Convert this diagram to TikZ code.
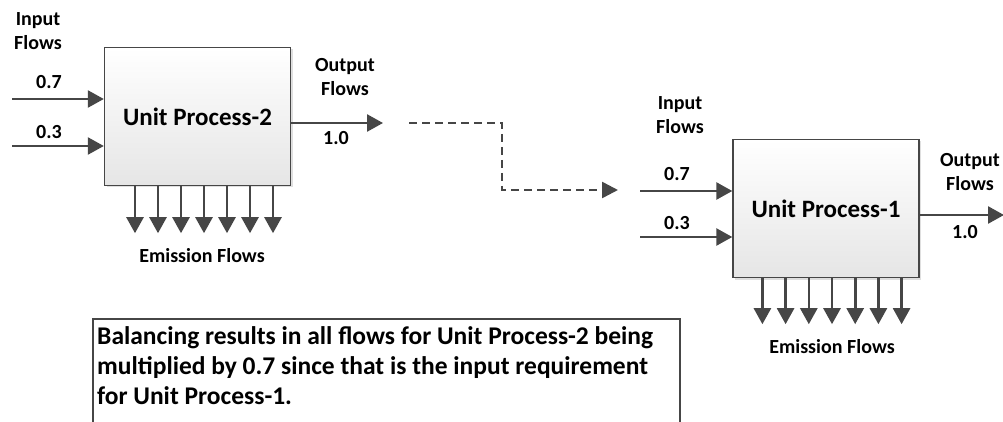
\documentclass[tikz,border=0pt]{standalone}
\usepackage{fontspec}
\setmainfont{Carlito}
\usetikzlibrary{arrows.meta,shadows}
\definecolor{flowgray}{RGB}{70,70,70}

\tikzset{
  flow/.style={draw=flowgray, line width=2.6pt, -{Triangle[length=16pt,width=17pt]}},
  dashflow/.style={draw=flowgray, line width=2.6pt, dash pattern=on 8pt off 5pt,
    -{Triangle[length=16pt,width=16pt]}},
  unitbox/.style={draw=flowgray, line width=1.4pt, top color=white, bottom color=gray!20,
    minimum width=186pt, minimum height=138pt, inner sep=0pt,
    font=\bfseries\fontsize{25}{30}\selectfont,
    drop shadow={shadow xshift=2pt, shadow yshift=-2pt, opacity=0.25}},
  lbl/.style={font=\bfseries\fontsize{20}{24.5}\selectfont, align=center, inner sep=0pt},
}

\begin{document}
\begin{tikzpicture}[x=1pt,y=-1pt]

\useasboundingbox (0,0) rectangle (1003,422);
\clip (0,0) rectangle (1003,422);

% unit processes
\node [unitbox] (up2) at (197.5,116.5) {Unit Process-2};
\node [unitbox] (up1) at (826,208.5) {Unit Process-1};

% free ends
\coordinate (in2a) at (12,99);
\coordinate (in2b) at (12,146);
\coordinate (out2) at (383,123);
\coordinate (in1a) at (640,191);
\coordinate (in1b) at (640,237);
\coordinate (out1) at (1004,215);
\coordinate (dstart) at (409,123);
\coordinate (dend) at (618,190);

% flows of Unit Process-2
\draw [flow] (in2a) -- ([yshift=17.5pt]up2.west);
\draw [flow] (in2b) -- ([yshift=-29.5pt]up2.west);
\draw [flow] ([yshift=-6.5pt]up2.east) -- (out2);
\foreach \i in {-3,...,3}
  \draw [flow] ([xshift=6.5pt+\i*23pt]up2.south) -- ++(0,47);

% flows of Unit Process-1
\draw [flow] (in1a) -- ([yshift=17.5pt]up1.west);
\draw [flow] (in1b) -- ([yshift=-28.5pt]up1.west);
\draw [flow] ([yshift=-6.5pt]up1.east) -- (out1);
\foreach \i in {-3,...,3}
  \draw [flow] ([xshift=6pt+\i*23.2pt]up1.south) -- ++(0,46);

% link
\draw [dashflow] (dstart) -| (502,190) -- (dend);

% labels
\node [lbl] (in2lbl) at (38,31) {Input\\Flows};
\node [lbl] (in2val) at (49,82) {0.7};
\node [lbl] (in2valb) at (49,132) {0.3};
\node [lbl] (out2lbl) at (345,77) {Output\\Flows};
\node [lbl] (out2val) at (336,138) {1.0};
\node [lbl] (em2lbl) at (202,256) {Emission Flows};

\node [lbl] (in1lbl) at (680,115) {Input\\Flows};
\node [lbl] (in1val) at (677,174) {0.7};
\node [lbl] (in1valb) at (677,223) {0.3};
\node [lbl] (out1lbl) at (970,172) {Output\\Flows};
\node [lbl] (out1val) at (965,232) {1.0};
\node [lbl] (em1lbl) at (832,347) {Emission Flows};

% note
\draw [flowgray, line width=1.2pt] (93,423) -- (93,319) -- (680,319) -- (680,423);
\node [anchor=north west, inner sep=0pt, align=left,
  font=\bfseries\fontsize{25.5}{30}\selectfont] (note) at (97,326)
  {Balancing results in all flows for Unit Process-2 being\\
   multiplied by 0.7 since that is the input requirement\\
   for Unit Process-1.};

\end{tikzpicture}
\end{document}
